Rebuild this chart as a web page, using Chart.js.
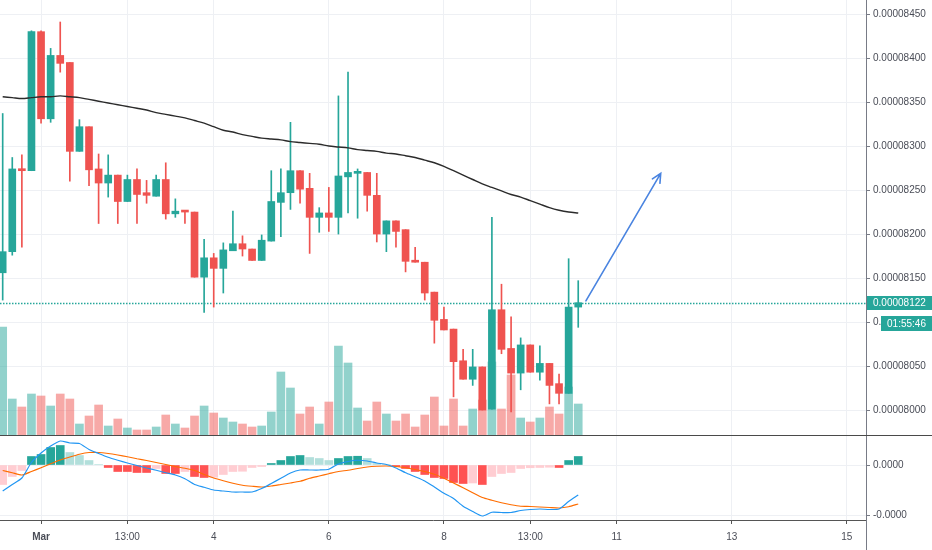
<!DOCTYPE html>
<html>
<head>
<meta charset="utf-8">
<script src="https://cdn.jsdelivr.net/npm/chart.js@4.4.1/dist/chart.umd.min.js"></script>
<style>
  html, body { margin: 0; padding: 0; background: #fff; }
  #wrap { width: 932px; height: 550px; position: relative; overflow: hidden; }
  #top { position: absolute; left: 0; top: 0; width: 932px; height: 436px; }
  #bot { position: absolute; left: 0; top: 436px; width: 932px; height: 114px; }
</style>
</head>
<body>
<div id="wrap">
  <div id="top"><canvas id="priceChart"></canvas></div>
  <div id="bot"><canvas id="macdChart"></canvas></div>
</div>
<script>
// 4h candles, prices in satoshi (1e-8), index 0 = Mar 1 00:00
const firstCandle = -4;

const opens = [8156, 8180, 8274, 8272, 8430, 8331, 8403, 8395, 8294, 8322, 8274, 8258, 8267, 8237, 8262, 8247,
  8243, 8262, 8223, 8226, 8225, 8151, 8173, 8161, 8181, 8189, 8183, 8170, 8192, 8236, 8247, 8272, 8252, 8219,
  8224, 8219, 8265, 8269, 8270, 8244, 8200, 8215, 8205, 8170, 8168, 8134, 8103, 8092, 8056, 8035, 8049, 8001,
  8114, 8070, 8042, 8074, 8043, 8053, 8030, 8019, 8117];
const highs = [8337, 8287, 8290, 8431, 8431, 8411, 8441, 8395, 8330, 8322, 8291, 8290, 8267, 8267, 8274, 8261,
  8267, 8281, 8240, 8226, 8225, 8194, 8178, 8190, 8226, 8198, 8183, 8199, 8272, 8274, 8327, 8272, 8269, 8230,
  8253, 8357, 8384, 8274, 8270, 8269, 8215, 8215, 8205, 8185, 8168, 8134, 8117, 8092, 8069, 8069, 8049, 8219,
  8143, 8106, 8082, 8074, 8073, 8053, 8041, 8172, 8147];
const lows = [8125, 8176, 8185, 8272, 8326, 8327, 8384, 8260, 8294, 8255, 8212, 8242, 8212, 8237, 8212, 8235,
  8243, 8217, 8219, 8212, 8151, 8111, 8117, 8133, 8181, 8175, 8170, 8170, 8192, 8197, 8228, 8235, 8178, 8202,
  8203, 8200, 8224, 8218, 8226, 8191, 8180, 8185, 8157, 8168, 8125, 8076, 8091, 8015, 8035, 8028, 8000, 8001,
  8064, 7998, 8023, 8043, 8034, 8007, 8007, 8019, 8094];
const closes = [8180, 8274, 8272, 8430, 8331, 8403, 8394, 8294, 8322, 8273, 8258, 8267, 8237, 8262, 8245, 8244,
  8262, 8223, 8226, 8225, 8151, 8173, 8161, 8182, 8189, 8183, 8170, 8193, 8237, 8247, 8272, 8251, 8219, 8224,
  8219, 8266, 8270, 8270, 8244, 8200, 8215, 8203, 8169, 8168, 8133, 8102, 8091, 8055, 8035, 8049, 8000, 8114,
  8069, 8042, 8074, 8043, 8053, 8028, 8019, 8117, 8122];
const volumes = [109, 37, 29, 42, 40, 30, 42, 37, 12, 20, 31, 10, 17, 8, 6, 6, 9, 21, 12, 8, 20, 30, 23, 18,
  14, 12, 9, 10, 24, 64, 48, 22, 29, 12, 34, 90, 73, 28, 15, 34, 22, 15, 22, 9, 21, 39, 10, 37, 10, 27, 36, 74,
  27, 61, 18, 14, 18, 29, 22, 49, 32];
const movingAvg = [8356, 8355, 8354, 8355, 8356, 8356, 8357, 8356, 8355, 8353, 8351, 8349, 8347, 8345, 8343,
  8341, 8338, 8336, 8334, 8332, 8329, 8326, 8322, 8318, 8316, 8313, 8311, 8309, 8308, 8307, 8305, 8304, 8303,
  8302, 8300, 8299, 8298, 8296, 8295, 8294, 8292, 8291, 8289, 8287, 8284, 8281, 8277, 8272, 8267, 8262, 8257,
  8253, 8249, 8245, 8242, 8238, 8234, 8230, 8227, 8225, 8224];

const macdLine = [-10.4, -7.8, -5.2, 1.0, 4.8, 7.6, 9.6, 8.8, 8.6, 6.2, 4.6, 3.1, 1.9, 0.8, -0.2, -1.2, -2.1,
  -3.1, -4.0, -5.5, -7.8, -8.9, -10.0, -10.4, -10.8, -10.8, -10.8, -9.4, -7.4, -5.3, -3.2, -2.0, -2.0, -2.0,
  -1.7, 0.4, 1.4, 1.9, 1.6, 0.8, 0.2, -1.2, -3.1, -4.7, -6.4, -8.8, -11.3, -13.4, -16.5, -18.6, -20.4, -18.9,
  -19.0, -19.0, -18.2, -17.8, -17.6, -17.8, -17.6, -14.6, -12.0];
const signalLine = [-2.2, -3.1, -4.0, -2.6, -1.1, 0.5, 2.0, 3.2, 4.3, 5.0, 5.0, 4.6, 4.0, 3.3, 2.5, 1.8, 1.0,
  0.2, -0.6, -1.3, -2.2, -3.8, -5.2, -6.3, -7.3, -8.1, -8.5, -8.8, -8.4, -7.8, -7.2, -6.5, -5.3, -4.4, -3.5,
  -2.6, -2.1, -1.4, -0.8, -0.5, -0.4, -0.6, -1.1, -1.8, -2.6, -3.7, -5.3, -7.2, -9.1, -11.1, -13.0, -14.1,
  -15.1, -15.9, -16.5, -16.6, -16.8, -17.0, -17.2, -16.7, -15.6];
const histogram = [-7.8, -4.6, -2.2, 3.4, 4.2, 7.0, 7.8, 5.0, 3.8, 1.8, 0.2, -1.0, -2.6, -2.6, -3.0, -3.0,
  -1.4, -3.4, -3.4, -2.6, -4.6, -5.0, -4.9, -3.8, -2.6, -2.5, -1.0, -0.6, 0.6, 1.8, 3.4, 3.8, 3.0, 2.6, 1.8,
  2.6, 3.4, 3.5, 2.6, 0.6, 0.2, -0.6, -1.4, -2.6, -3.8, -5.0, -5.4, -7.0, -7.4, -7.2, -7.8, -4.6, -3.4, -3.0,
  -1.4, -1.1, -1.0, -0.9, -1.0, 1.8, 3.4];

const priceTicks = [8000, 8050, 8100, 8150, 8200, 8250, 8300, 8350, 8400, 8450];
const macdTicks = [0, -20];
const xTickPos = [0, 9, 18, 30, 42, 51, 60, 72, 84];
const xTickLabels = ['Mar', '13:00', '4', '6', '8', '13:00', '11', '13', '15'];

const countdown = '01:55:46';
const arrowFrom = [56.8, 8124];
const arrowTo = [64.6, 8269];

// ---------------------------------------------------------------
const TEAL = '#26a69a';
const RED = '#ef5350';
const GRID = '#eef0f4';
const TEXT = '#4a4d57';
const FONT = { family: 'Liberation Sans, Arial, sans-serif', size: 10 };

const xs = opens.map((_, i) => firstCandle + i);
const lastPrice = closes[closes.length - 1];
const up = closes.map((c, i) => c >= opens[i]);
const candleColors = up.map(u => (u ? TEAL : RED));
const volColors = up.map(u => (u ? 'rgba(38,166,154,0.5)' : 'rgba(239,83,80,0.5)'));
const histColors = histogram.map((h, i) => {
    const prev = i > 0 ? histogram[i - 1] : -Infinity;
    if (h >= 0) return h >= prev ? TEAL : '#b2dfdb';
    return h <= prev ? '#ff5252' : '#ffcdd2';
});

const xScaleBase = {
    type: 'linear',
    min: -4.28,
    max: 86,
    offset: false,
    afterBuildTicks: s => { s.ticks = xTickPos.map(v => ({ value: v })); },
};

// fixed right axis, no label overhang padding
const rightAxisFit = s => {
    s.width = 66;
    s.paddingTop = 0;
    s.paddingBottom = 0;
};

const priceOverlay = {
    id: 'priceOverlay',
    beforeDatasetsDraw(chart) {
        const { ctx, chartArea, scales } = chart;
        const y = Math.round(scales.y.getPixelForValue(lastPrice)) + 0.5;
        ctx.save();
        ctx.strokeStyle = TEAL;
        ctx.lineWidth = 1.4;
        ctx.setLineDash([1.5, 1.5]);
        ctx.beginPath();
        ctx.moveTo(chartArea.left, y);
        ctx.lineTo(chartArea.right, y);
        ctx.stroke();
        ctx.restore();
    },
    afterDatasetsDraw(chart) {
        const { ctx, scales } = chart;
        const x1 = scales.x.getPixelForValue(arrowFrom[0]);
        const y1 = scales.y.getPixelForValue(arrowFrom[1]);
        const x2 = scales.x.getPixelForValue(arrowTo[0]);
        const y2 = scales.y.getPixelForValue(arrowTo[1]);
        const ang = Math.atan2(y2 - y1, x2 - x1);
        const head = 10;
        ctx.save();
        ctx.strokeStyle = '#4a84e0';
        ctx.lineWidth = 1.6;
        ctx.lineCap = 'round';
        ctx.beginPath();
        ctx.moveTo(x1, y1);
        ctx.lineTo(x2, y2);
        ctx.moveTo(x2 - head * Math.cos(ang - 0.45), y2 - head * Math.sin(ang - 0.45));
        ctx.lineTo(x2, y2);
        ctx.lineTo(x2 - head * Math.cos(ang + 0.45), y2 - head * Math.sin(ang + 0.45));
        ctx.stroke();
        ctx.restore();
    },
    afterDraw(chart) {
        const { ctx, chartArea, scales, width, height } = chart;
        const y = Math.round(scales.y.getPixelForValue(lastPrice));
        ctx.save();
        // last price tag
        ctx.fillStyle = TEAL;
        ctx.fillRect(chartArea.right + 1, y - 7, width - chartArea.right, 14);
        ctx.fillStyle = '#fff';
        ctx.font = `10px ${FONT.family}`;
        ctx.textBaseline = 'middle';
        ctx.textAlign = 'left';
        ctx.fillText((lastPrice / 1e8).toFixed(8), chartArea.right + 7, y + 0.5);
        // countdown tag
        ctx.fillStyle = TEAL;
        ctx.fillRect(chartArea.right + 15, y + 13, width - chartArea.right - 15, 15);
        ctx.fillStyle = '#fff';
        ctx.textAlign = 'center';
        ctx.fillText(countdown, (chartArea.right + 15 + width) / 2, y + 21);
        // pane separator
        ctx.strokeStyle = '#4a4a4a';
        ctx.lineWidth = 1;
        ctx.beginPath();
        ctx.moveTo(0, height - 0.5);
        ctx.lineTo(width, height - 0.5);
        ctx.stroke();
        ctx.restore();
    }
};

new Chart(document.getElementById('priceChart'), {
    type: 'bar',
    data: {
        datasets: [
            {
                label: 'Volume',
                yAxisID: 'yVol',
                data: xs.map((x, i) => ({ x, y: volumes[i] })),
                backgroundColor: volColors,
                barThickness: 8,
                grouped: false,
                order: 4
            },
            {
                label: 'Wick',
                yAxisID: 'y',
                data: xs.map((x, i) => ({ x, y: [lows[i], highs[i]] })),
                backgroundColor: candleColors,
                barThickness: 1,
                grouped: false,
                order: 3
            },
            {
                label: 'Body',
                yAxisID: 'y',
                data: xs.map((x, i) => ({ x, y: [opens[i], closes[i]] })),
                backgroundColor: candleColors,
                barThickness: 7,
                minBarLength: 2,
                grouped: false,
                order: 2
            },
            {
                type: 'line',
                label: 'MA',
                yAxisID: 'y',
                data: xs.map((x, i) => ({ x, y: movingAvg[i] })),
                borderColor: '#2b2b2b',
                borderWidth: 1.4,
                pointRadius: 0,
                tension: 0.3,
                order: 1
            }
        ]
    },
    options: {
        responsive: true,
        maintainAspectRatio: false,
        animation: false,
        layout: { padding: 0 },
        plugins: { legend: { display: false }, tooltip: { enabled: false } },
        scales: {
            x: {
                ...xScaleBase,
                grid: { color: GRID, drawTicks: false, offset: false },
                border: { display: false },
                ticks: { display: false },
                afterFit: s => { s.height = 0; s.paddingLeft = 0; s.paddingRight = 0; }
            },
            y: {
                position: 'right',
                min: 7970.5,
                max: 8466,
                afterBuildTicks: s => { s.ticks = priceTicks.map(v => ({ value: v })); },
                afterFit: rightAxisFit,
                grid: { color: GRID, tickColor: '#787b86', tickLength: 4 },
                border: { color: '#787b86' },
                ticks: {
                    color: TEXT,
                    font: FONT,
                    padding: 3,
                    callback: v => (v / 1e8).toFixed(8)
                }
            },
            yVol: {
                display: false,
                min: 0,
                max: 436
            }
        }
    },
    plugins: [priceOverlay]
});

const macdOverlay = {
    id: 'macdOverlay',
    afterDraw(chart) {
        const { ctx, chartArea, height } = chart;
        ctx.save();
        ctx.strokeStyle = '#787b86';
        ctx.lineWidth = 1;
        ctx.beginPath();
        ctx.moveTo(chartArea.right + 0.5, chartArea.bottom);
        ctx.lineTo(chartArea.right + 0.5, height);
        ctx.stroke();
        ctx.restore();
    }
};

new Chart(document.getElementById('macdChart'), {
    type: 'bar',
    data: {
        datasets: [
            {
                label: 'Histogram',
                data: xs.map((x, i) => ({ x, y: histogram[i] })),
                backgroundColor: histColors,
                barThickness: 8,
                grouped: false,
                order: 3
            },
            {
                type: 'line',
                label: 'Signal',
                data: xs.map((x, i) => ({ x, y: signalLine[i] })),
                borderColor: '#ff6d00',
                borderWidth: 1.2,
                pointRadius: 0,
                tension: 0.2,
                order: 2
            },
            {
                type: 'line',
                label: 'MACD',
                data: xs.map((x, i) => ({ x, y: macdLine[i] })),
                borderColor: '#2196f3',
                borderWidth: 1.2,
                pointRadius: 0,
                tension: 0.2,
                order: 1
            }
        ]
    },
    options: {
        responsive: true,
        maintainAspectRatio: false,
        animation: false,
        layout: { padding: 0 },
        plugins: { legend: { display: false }, tooltip: { enabled: false } },
        scales: {
            x: {
                ...xScaleBase,
                afterFit: s => { s.height = 30; s.paddingLeft = 0; s.paddingRight = 0; },
                grid: { color: GRID, tickColor: '#555', tickLength: 4, offset: false },
                border: { color: '#555' },
                ticks: {
                    color: TEXT,
                    autoSkip: false,
                    maxRotation: 0,
                    padding: 7,
                    font: ctx => ({
                        family: FONT.family,
                        size: FONT.size,
                        weight: ctx.tick && ctx.tick.label === 'Mar' ? 'bold' : 'normal'
                    }),
                    callback: (v, i) => xTickLabels[i]
                }
            },
            y: {
                position: 'right',
                min: -22,
                max: 11.6,
                afterBuildTicks: s => { s.ticks = macdTicks.map(v => ({ value: v })); },
                afterFit: rightAxisFit,
                grid: { color: GRID, tickColor: '#787b86', tickLength: 4 },
                border: { color: '#787b86' },
                ticks: {
                    color: TEXT,
                    font: FONT,
                    padding: 3,
                    callback: v => (v / 1e8).toFixed(4)
                }
            }
        }
    },
    plugins: [macdOverlay]
});
</script>
</body>
</html>
